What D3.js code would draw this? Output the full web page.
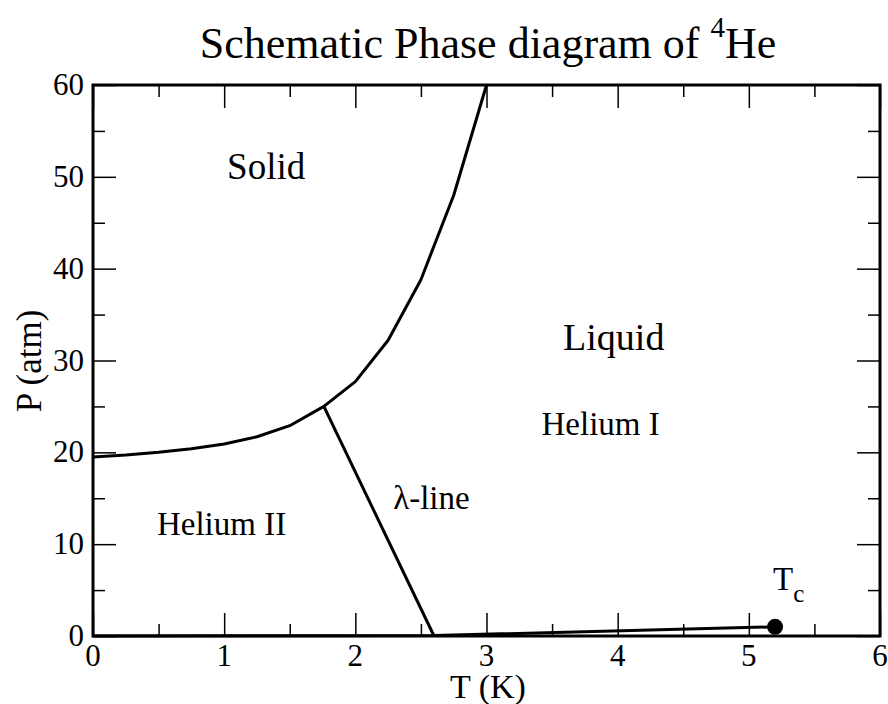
<!DOCTYPE html>
<html>
<head>
<meta charset="UTF-8">
<script src="https://d3js.org/d3.v7.min.js"></script>
<style>
  body { margin: 0; background: #fff; }
  .axis path { display: none; }
  .axis line { stroke: #000; stroke-width: 1.5; }
</style>
</head>
<body>
<svg id="chart" width="888" height="704"></svg>
<script>
// melting curve (solid boundary)
const meltT = [0, 0.25, 0.5, 0.75, 1.0, 1.25, 1.5, 1.76, 2.0, 2.25, 2.5, 2.75, 3.0];
const meltP = [19.5, 19.7, 20.0, 20.4, 20.9, 21.7, 22.9, 25.0, 27.7, 32.2, 38.8, 48.0, 60];
// lambda line
const lambdaT = [1.76, 2.6];
const lambdaP = [25.0, 0.0];
// vapour pressure line up to critical point
const vapT = [0, 2.6, 5.2];
const vapP = [0, 0.05, 1.0];
const critT = 5.2, critP = 1.0;

const xMajor = [0, 1, 2, 3, 4, 5, 6];
const xMinor = [0.5, 1.5, 2.5, 3.5, 4.5, 5.5];
const yMajor = [0, 10, 20, 30, 40, 50, 60];
const yMinor = [5, 15, 25, 35, 45, 55];

const labels = [
  { t: 'Solid', T: 1.32, P: 49.8, size: 37 },
  { t: 'Liquid', T: 3.97, P: 31.1, size: 38 },
  { t: 'Helium I', T: 3.87, P: 21.9, size: 33 },
  { t: 'Helium II', T: 0.98, P: 11.0, size: 33 },
  { t: 'λ-line', T: 2.58, P: 13.8, size: 33 }
];

const FONT = "'Liberation Serif'";
const svg = d3.select('#chart');
const m = { left: 93, right: 880, top: 85, bottom: 636 };

const x = d3.scaleLinear().domain([0, 6]).range([m.left, m.right]);
const y = d3.scaleLinear().domain([0, 60]).range([m.bottom, m.top]);

// ticks, all pointing inward
function ticks(axisFn, scale, vals, size, transform) {
  svg.append('g').attr('class', 'axis').attr('transform', transform)
    .call(axisFn(scale).tickValues(vals).tickSize(size).tickFormat(''));
}
ticks(d3.axisBottom, x, xMajor, -23, `translate(0,${m.bottom})`);
ticks(d3.axisBottom, x, xMinor, -12, `translate(0,${m.bottom})`);
ticks(d3.axisTop, x, xMajor, -23, `translate(0,${m.top})`);
ticks(d3.axisTop, x, xMinor, -12, `translate(0,${m.top})`);
ticks(d3.axisLeft, y, yMajor, -23, `translate(${m.left},0)`);
ticks(d3.axisLeft, y, yMinor, -12, `translate(${m.left},0)`);
ticks(d3.axisRight, y, yMajor, -23, `translate(${m.right},0)`);
ticks(d3.axisRight, y, yMinor, -12, `translate(${m.right},0)`);

// tick labels
svg.append('g').selectAll('text').data(xMajor).enter().append('text')
  .attr('x', d => x(d)).attr('y', m.bottom + 30)
  .attr('text-anchor', 'middle').attr('font-size', 31)
  .text(d => d);
svg.append('g').selectAll('text').data(yMajor).enter().append('text')
  .attr('x', m.left - 9).attr('y', d => y(d) + 10)
  .attr('text-anchor', 'end').attr('font-size', 31)
  .text(d => d);

// frame
svg.append('rect')
  .attr('x', m.left).attr('y', m.top)
  .attr('width', m.right - m.left).attr('height', m.bottom - m.top)
  .attr('fill', 'none').attr('stroke', '#000').attr('stroke-width', 3);

const line = d3.line().x(d => x(d[0])).y(d => y(d[1]));
function curve(ts, ps) {
  svg.append('path')
    .datum(ts.map((t, i) => [t, ps[i]]))
    .attr('d', line)
    .attr('fill', 'none').attr('stroke', '#000')
    .attr('stroke-width', 3).attr('stroke-linejoin', 'round');
}
curve(meltT, meltP);
curve(lambdaT, lambdaP);
curve(vapT, vapP);

svg.append('circle')
  .attr('cx', x(critT)).attr('cy', y(critP)).attr('r', 8).attr('fill', '#000');

// region labels
svg.append('g').selectAll('text').data(labels).enter().append('text')
  .attr('x', d => x(d.T)).attr('y', d => y(d.P))
  .attr('text-anchor', 'middle').attr('font-size', d => d.size)
  .text(d => d.t);

const tc = svg.append('text')
  .attr('x', x(critT) - 2).attr('y', y(critP) - 37)
  .attr('font-size', 33).text('T');
tc.append('tspan').attr('dy', 12).attr('font-size', 25).text('c');

// title
const title = svg.append('text')
  .attr('x', 488).attr('y', 58)
  .attr('text-anchor', 'middle').attr('font-size', 44)
  .text('Schematic Phase diagram of ');
title.append('tspan').attr('dy', -21).attr('font-size', 29).text('4');
title.append('tspan').attr('dy', 21).text('He');

// axis titles
svg.append('text')
  .attr('x', 488).attr('y', 698)
  .attr('text-anchor', 'middle').attr('font-size', 34)
  .text('T (K)');
svg.append('text')
  .attr('transform', 'translate(41,361) rotate(-90)')
  .attr('text-anchor', 'middle').attr('font-size', 35)
  .text('P (atm)');

// serif face on every text element
svg.selectAll('text').style('font-family', FONT).style('fill', '#000');
</script>
</body>
</html>
